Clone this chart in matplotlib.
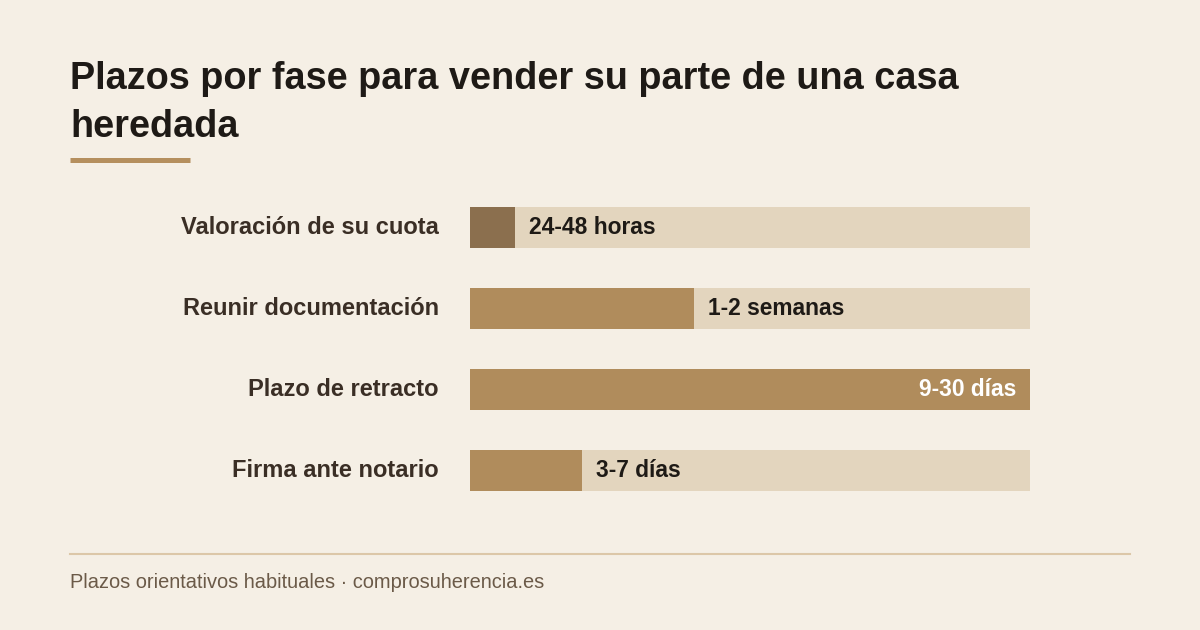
import matplotlib
matplotlib.use("Agg")
import matplotlib.pyplot as plt
from matplotlib.lines import Line2D

plt.rcParams['font.family'] = ['Liberation Sans', 'DejaVu Sans']

# data
phases = ["Valoración de su cuota", "Reunir documentación", "Plazo de retracto", "Firma ante notario"]
share = [8, 40, 100, 20]          # relative length of each phase (% of track)
labels = ["24-48 horas", "1-2 semanas", "9-30 días", "3-7 días"]

bg = "#F5EFE5"
track = "#E3D5BE"
fill = "#B08C5C"
fill_dark = "#8B6F4E"
ink = "#1E1A16"
label_col = "#3A2E25"

W, H = 1200, 630
fig = plt.figure(figsize=(W / 100, H / 100), dpi=100)
fig.patch.set_facecolor(bg)

def fx(px):
    return px / W

def fy(py):
    return 1 - py / H

# title
fig.text(fx(70), fy(89), "Plazos por fase para vender su parte de una casa",
         fontsize=27.3, fontweight="bold", color=ink, va="baseline", ha="left")
fig.text(fx(70), fy(137), "heredada",
         fontsize=27.3, fontweight="bold", color=ink, va="baseline", ha="left")
fig.add_artist(Line2D([fx(70), fx(190)], [fy(160), fy(160)], color="#B58F5E",
                      linewidth=3.6, solid_capstyle="butt", transform=fig.transFigure))

# bars
ax = fig.add_axes([fx(470), fy(511), fx(560), (511 - 187) / H])
ax.set_facecolor(bg)
ypos = list(range(len(phases)))
ax.barh(ypos, [100] * len(phases), height=0.51, color=track, linewidth=0)
colors = [fill_dark] + [fill] * (len(phases) - 1)
ax.barh(ypos, share, height=0.51, color=colors, linewidth=0)
ax.set_xlim(0, 100)
ax.set_ylim(len(phases) - 0.5, -0.5)
ax.axis("off")

for y, name, v, lab in zip(ypos, phases, share, labels):
    ax.text(-31 / 5.6, y, name, ha="right", va="center", fontsize=17,
            fontweight="bold", color=label_col)
    if v >= 90:
        ax.text(v - 14 / 5.6, y, lab, ha="right", va="center", fontsize=16.4,
                fontweight="bold", color="white")
    else:
        ax.text(v + 14 / 5.6, y, lab, ha="left", va="center", fontsize=16.4,
                fontweight="bold", color=ink)

# footer
fig.add_artist(Line2D([fx(70), fx(1130)], [fy(554), fy(554)], color="#DCC7A8",
                      linewidth=1.5, transform=fig.transFigure))
fig.text(fx(70), fy(583), "Plazos orientativos habituales · comprosuherencia.es",
         fontsize=14.4, color="#6B5A48", va="center", ha="left")

fig.savefig("out.png", dpi=100, facecolor=bg)
